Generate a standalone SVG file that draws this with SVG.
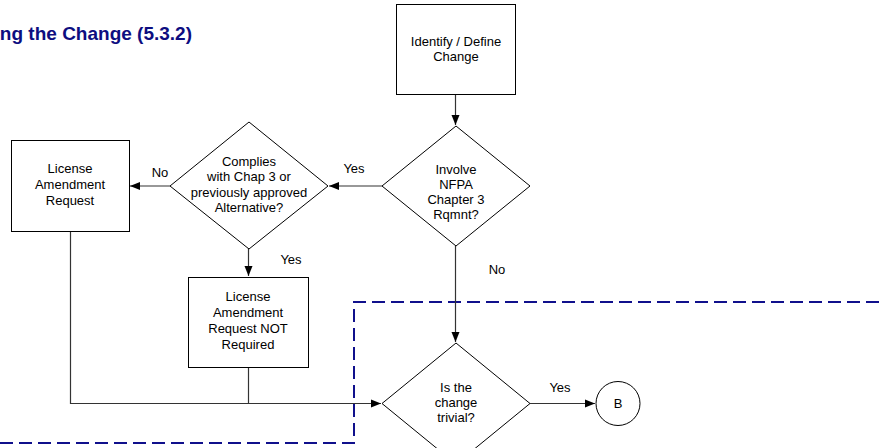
<svg xmlns="http://www.w3.org/2000/svg" width="884" height="448" viewBox="0 0 884 448">
  <style>
    .box { fill: #ffffff; stroke: #000000; stroke-width: 1; }
    .t { font-family: "Liberation Sans", Arial, sans-serif; font-size: 13px; fill: #000000; text-anchor: middle; }
    .lbl { font-family: "Liberation Sans", Arial, sans-serif; font-size: 13px; fill: #000000; text-anchor: middle; }
    .conn { fill: none; stroke: #333333; stroke-width: 1.2; }
    .title { font-family: "Liberation Sans", Arial, sans-serif; font-size: 19px; font-weight: bold; fill: #0d0d80; }
    .scope { fill: none; stroke: #10108c; stroke-width: 2; stroke-dasharray: 13 6; }
  </style>
  <defs>
    <marker id="arrow" viewBox="0 0 10 10" refX="10" refY="5" markerWidth="10" markerHeight="10" markerUnits="userSpaceOnUse" orient="auto">
      <path d="M0,1 L10,5 L0,9 Z" fill="#000000"/>
    </marker>
  </defs>

  <rect width="884" height="448" fill="#ffffff"/>

  <text class="title" x="192" y="40" text-anchor="end">ng the Change (5.3.2)</text>

  <!-- scope boundary -->
  <path class="scope" d="M0,443 H354 V302 H884"/>

  <g id="connectors">
    <path class="conn" d="M455.5,94 V125" marker-end="url(#arrow)"/>
    <path class="conn" d="M382,186 H329" marker-end="url(#arrow)"/>
    <path class="conn" d="M170,186 H130" marker-end="url(#arrow)"/>
    <path class="conn" d="M248.5,248 V276" marker-end="url(#arrow)"/>
    <path class="conn" d="M455.5,246 V342" marker-end="url(#arrow)"/>
    <path class="conn" d="M70.5,231 V403.5 H381" marker-end="url(#arrow)"/>
    <path class="conn" d="M248.5,367 V403.5"/>
    <path class="conn" d="M530,403.5 H595" marker-end="url(#arrow)"/>
    <text class="lbl" x="354" y="173">Yes</text>
    <text class="lbl" x="160" y="177">No</text>
    <text class="lbl" x="291" y="264">Yes</text>
    <text class="lbl" x="497" y="274">No</text>
    <text class="lbl" x="560" y="392">Yes</text>
  </g>

  <g id="identify">
    <rect class="box" x="396.5" y="4.5" width="119" height="90"/>
    <text class="t" x="456" y="46">Identify / Define</text>
    <text class="t" x="456" y="61">Change</text>
  </g>

  <g id="involve">
    <polygon class="box" points="456,126 530,186 456,246 382,186"/>
    <text class="t" x="456" y="174">Involve</text>
    <text class="t" x="456" y="189">NFPA</text>
    <text class="t" x="456" y="204">Chapter 3</text>
    <text class="t" x="456" y="219">Rqmnt?</text>
  </g>

  <g id="complies">
    <polygon class="box" points="249,122 328,186 249,249 170,186"/>
    <text class="t" x="249" y="166">Complies</text>
    <text class="t" x="249" y="181">with Chap 3 or</text>
    <text class="t" x="249" y="197">previously approved</text>
    <text class="t" x="249" y="212">Alternative?</text>
  </g>

  <g id="lar">
    <rect class="box" x="11.5" y="140.5" width="118" height="91"/>
    <text class="t" x="70" y="173">License</text>
    <text class="t" x="70" y="189">Amendment</text>
    <text class="t" x="70" y="205">Request</text>
  </g>

  <g id="lar-not">
    <rect class="box" x="188.5" y="277.5" width="120" height="90"/>
    <text class="t" x="248" y="301">License</text>
    <text class="t" x="248" y="317">Amendment</text>
    <text class="t" x="248" y="333">Request NOT</text>
    <text class="t" x="248" y="349">Required</text>
  </g>

  <g id="trivial">
    <polygon class="box" points="456,343 530,403.5 456,464 382,403.5"/>
    <text class="t" x="456" y="392">Is the</text>
    <text class="t" x="456" y="407">change</text>
    <text class="t" x="456" y="422">trivial?</text>
  </g>

  <g id="connector-b">
    <circle class="box" cx="618" cy="403.5" r="22"/>
    <text class="t" x="618" y="408">B</text>
  </g>
</svg>
